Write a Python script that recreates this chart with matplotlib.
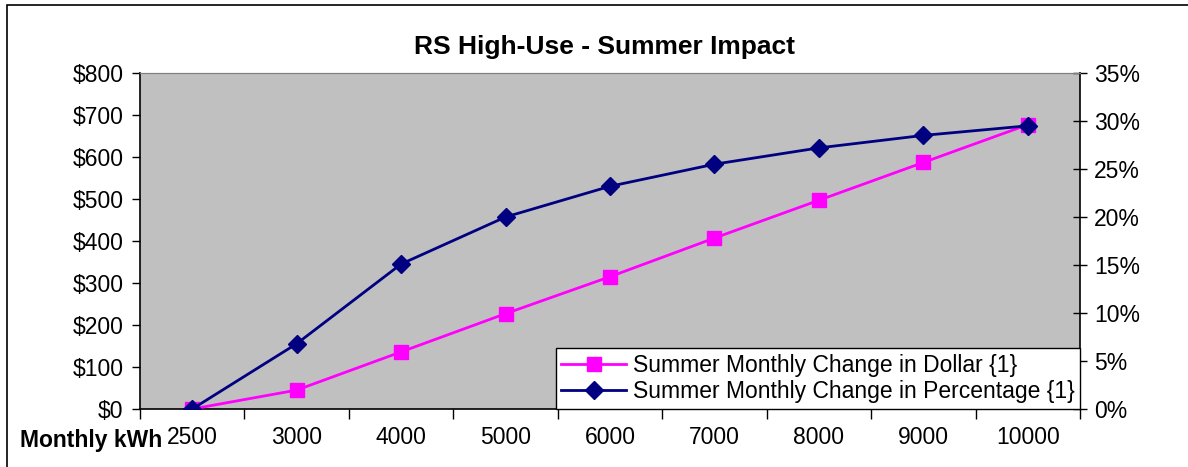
import matplotlib.pyplot as plt
from matplotlib.ticker import FuncFormatter, FixedLocator
from matplotlib.patches import Rectangle

# data
kwh_labels = ["2500", "3000", "4000", "5000", "6000", "7000", "8000", "9000", "10000"]
dollar_change = [0, 45, 136, 227, 315, 407, 497, 587, 677]
pct_change = [0.0, 6.8, 15.1, 20.0, 23.2, 25.5, 27.2, 28.5, 29.5]

plt.rcParams['font.family'] = ['Liberation Sans', 'DejaVu Sans']

fig = plt.figure(figsize=(11.88, 4.67), dpi=100)
ax = fig.add_axes([140 / 1188, 1 - 409 / 467, 940 / 1188, 336 / 467])
ax2 = ax.twinx()

x = list(range(len(kwh_labels)))
fs = 16.5

ax.set_facecolor("#C0C0C0")
l1, = ax.plot(x, dollar_change, color="#FF00FF", lw=2, marker="s", ms=10,
              label="Summer Monthly Change in Dollar {1}", zorder=3)
l2, = ax2.plot(x, pct_change, color="#000080", lw=2, marker="D", ms=9,
               label="Summer Monthly Change in Percentage {1}", zorder=3)

ax.set_xlim(-0.5, len(kwh_labels) - 0.5)
ax.set_ylim(0, 800)
ax2.set_ylim(0, 35)

ax.set_yticks(range(0, 801, 100))
ax.yaxis.set_major_formatter(FuncFormatter(lambda v, p: f"${v:.0f}"))
ax2.set_yticks(range(0, 36, 5))
ax2.yaxis.set_major_formatter(FuncFormatter(lambda v, p: f"{v:.0f}%"))

ax.set_xticks(x)
ax.set_xticklabels(kwh_labels)
ax.xaxis.set_minor_locator(FixedLocator([i - 0.5 for i in range(len(kwh_labels) + 1)]))
ax.tick_params(axis="x", which="major", length=0, pad=12, labelsize=fs)
ax.tick_params(axis="x", which="minor", length=7, width=1, direction="out")
ax.tick_params(axis="y", length=6, width=1, direction="out", labelsize=fs, pad=6)
ax2.tick_params(axis="y", length=10, width=1, direction="inout", labelsize=fs, pad=5)

ax.spines["top"].set_color("#808080")
ax2.spines["top"].set_color("#808080")
ax.spines["right"].set_visible(False)
ax2.spines["left"].set_visible(False)
ax2.spines["bottom"].set_visible(False)
for sp in [ax.spines["left"], ax.spines["bottom"], ax2.spines["right"]]:
    sp.set_color("black")
    sp.set_linewidth(1.2)

leg = ax2.legend(handles=[l1, l2], loc="lower right", bbox_to_anchor=(1.0, 0.0),
                 borderaxespad=0, fontsize=fs, fancybox=False, framealpha=1,
                 edgecolor="black", handlelength=2.8, handletextpad=0.3,
                 borderpad=0.25, labelspacing=0.15)
leg.get_frame().set_linewidth(1)

fig.text(605 / 1188, 1 - 47 / 467, "RS High-Use - Summer Impact",
         ha="center", va="center", fontsize=19, fontweight="bold")
fig.text(20 / 1188, 1 - 441 / 467, "Monthly kWh", ha="left", va="center",
         fontsize=fs, fontweight="bold")

# outer chart frame (only left and top edges fall inside the image)
fig.patches.append(Rectangle((7 / 1188, -0.1), 1.2, 1 - 5 / 467 + 0.1,
                             transform=fig.transFigure, fill=False,
                             edgecolor="black", lw=1.2))

fig.savefig("out.png", dpi=100)
